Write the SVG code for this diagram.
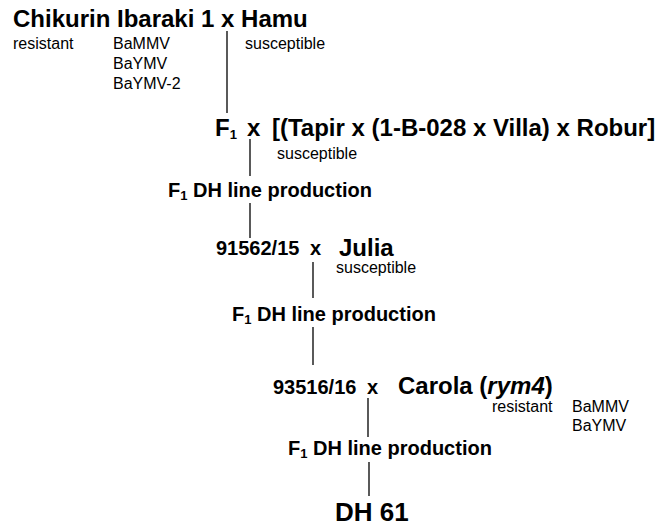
<svg xmlns="http://www.w3.org/2000/svg" width="670" height="527" viewBox="0 0 670 527">
<style>
text{font-family:"Liberation Sans",Arial,Helvetica,sans-serif;fill:#000}
.big{font-size:24px;font-weight:bold}
.mid{font-size:20px;font-weight:bold}
.sm{font-size:16px}
.sub{font-size:13px}
.c line{stroke:#000;stroke-width:1.3}
</style>
<rect width="670" height="527" fill="#fff"/>
<g class="c" id="connectors">
<line x1="227" y1="31" x2="227" y2="113"/>
<line x1="250" y1="139" x2="250" y2="176"/>
<line x1="250" y1="203" x2="250" y2="238"/>
<line x1="313" y1="262" x2="313" y2="298"/>
<line x1="313" y1="327" x2="313" y2="365"/>
<line x1="368" y1="398" x2="368" y2="437"/>
<line x1="369" y1="462" x2="369" y2="496"/>
</g>
<g id="cross1">
<text class="big" x="13" y="27">Chikurin Ibaraki 1 x Hamu</text>
<text class="sm" x="13" y="49">resistant</text>
<text class="sm" x="113" y="49">BaMMV</text>
<text class="sm" x="113" y="69">BaYMV</text>
<text class="sm" x="113" y="89">BaYMV-2</text>
<text class="sm" x="245" y="49">susceptible</text>
</g>
<g id="cross2">
<text class="big" x="215" y="136">F<tspan class="sub" dy="3">1</tspan></text>
<text class="big" x="247" y="136">x</text>
<text class="big" x="272" y="136">[(Tapir x (1-B-028 x Villa) x Robur]</text>
<text class="sm" x="277" y="159">susceptible</text>
</g>
<g id="dh1">
<text class="mid" x="168" y="197">F<tspan class="sub" dy="3">1</tspan><tspan dy="-3"> DH line production</tspan></text>
</g>
<g id="cross3">
<text class="mid" x="216" y="255">91562/15</text>
<text class="mid" x="310" y="255">x</text>
<text class="big" x="339" y="256">Julia</text>
<text class="sm" x="336" y="273">susceptible</text>
</g>
<g id="dh2">
<text class="mid" x="232" y="321">F<tspan class="sub" dy="3">1</tspan><tspan dy="-3"> DH line production</tspan></text>
</g>
<g id="cross4">
<text class="mid" x="273" y="394">93516/16</text>
<text class="mid" x="367" y="394">x</text>
<text class="big" x="398" y="394">Carola (<tspan font-style="italic">rym4</tspan>)</text>
<text class="sm" x="492" y="412">resistant</text>
<text class="sm" x="572" y="412">BaMMV</text>
<text class="sm" x="572" y="431">BaYMV</text>
</g>
<g id="dh3">
<text class="mid" x="288" y="455">F<tspan class="sub" dy="3">1</tspan><tspan dy="-3"> DH line production</tspan></text>
</g>
<g id="dh61">
<text class="big" x="335" y="521" style="font-size:26px">DH 61</text>
</g>
</svg>
